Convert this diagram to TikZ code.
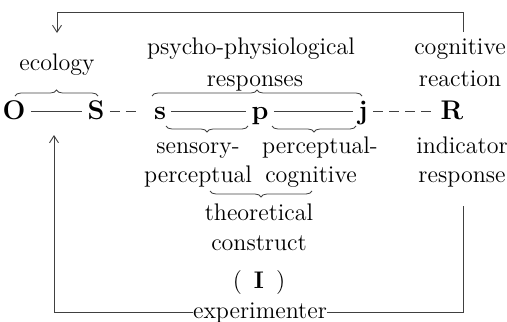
\documentclass[tikz,border=0pt]{standalone}
\usepackage{tikz}
\usetikzlibrary{arrows.meta, positioning, decorations.pathreplacing}

\begin{document}
\begin{tikzpicture}[
  x=0.5pt, y=-0.5pt,
  lbl/.style={font=\fontsize{12}{14}\selectfont, inner sep=0pt, anchor=base},
  sym/.style={font=\fontsize{13.5}{15}\selectfont\bfseries, inner sep=2.5pt, anchor=base, text height=9pt, text depth=1pt},
  link/.style={line width=0.45pt, draw=black!75},
  dlink/.style={link, dash pattern=on 5pt off 3pt},
  brc/.style={decorate, decoration={brace, amplitude=3pt}, line width=0.4pt, draw=black!75},
  arrow/.style={link, -{Straight Barb[length=3.5pt, width=4.5pt]}},
]
\useasboundingbox (0,0) rectangle (507,321);

% Upper labels
\node[lbl] (eco) at (57,70) {ecology};
\node[lbl] (psy) at (251,54) {psycho-physiological};
\node[lbl] (resp) at (255,86) {responses};
\node[lbl] (cog) at (460,54) {cognitive};
\node[lbl] (react) at (460,86) {reaction};

% Main chain
\node[sym] (O) at (14,119) {O};
\node[sym] (S) at (96,119) {S};
\node[sym] (s) at (160,119) {s};
\node[sym] (p) at (260,119) {p};
\node[sym] (j) at (363,119) {j};
\node[sym] (R) at (452,119) {R};

\draw[link] (O) -- (S);
\draw[dlink, shorten >=4pt] (S) -- (s);
\draw[link] (s) -- (p);
\draw[link] (p) -- (j);
\draw[dlink] (j) -- (R);

% Braces
\draw[brc] (15,96) -- (98,96);
\draw[brc] (152,96) -- (362,96);
\draw[brc, decoration={mirror}] (166,126) -- (248,126);
\draw[brc, decoration={mirror}] (272,126) -- (356,126);
\draw[brc, decoration={mirror}] (210,191) -- (312,191);

% Lower labels
\node[lbl] (sens) at (198,153) {sensory-};
\node[lbl] (percA) at (320,153) {perceptual-};
\node[lbl] (ind) at (462,153) {indicator};
\node[lbl] (percB) at (198,182) {perceptual};
\node[lbl] (cogB) at (311,182) {cognitive};
\node[lbl] (respB) at (462,182) {response};
\node[lbl] (theo) at (259,220) {theoretical};
\node[lbl] (cons) at (259,250) {construct};
\node[lbl] (constr) at (259,288) {(\enspace\textbf{\large I}\enspace)};
\node[lbl] (exper) at (260,318) {experimenter};

% Feedback loops
\coordinate (topR) at (463,32);
\coordinate (topL) at (57,33);
\draw[arrow] (topR) -- ++(0,-20) -| (topL);

\coordinate (botL) at (54,135);
\coordinate (botR) at (463,206);
\draw[arrow] (exper.west) -| (botL);
\draw[link] (exper.east) -| (botR);

\end{tikzpicture}
\end{document}
